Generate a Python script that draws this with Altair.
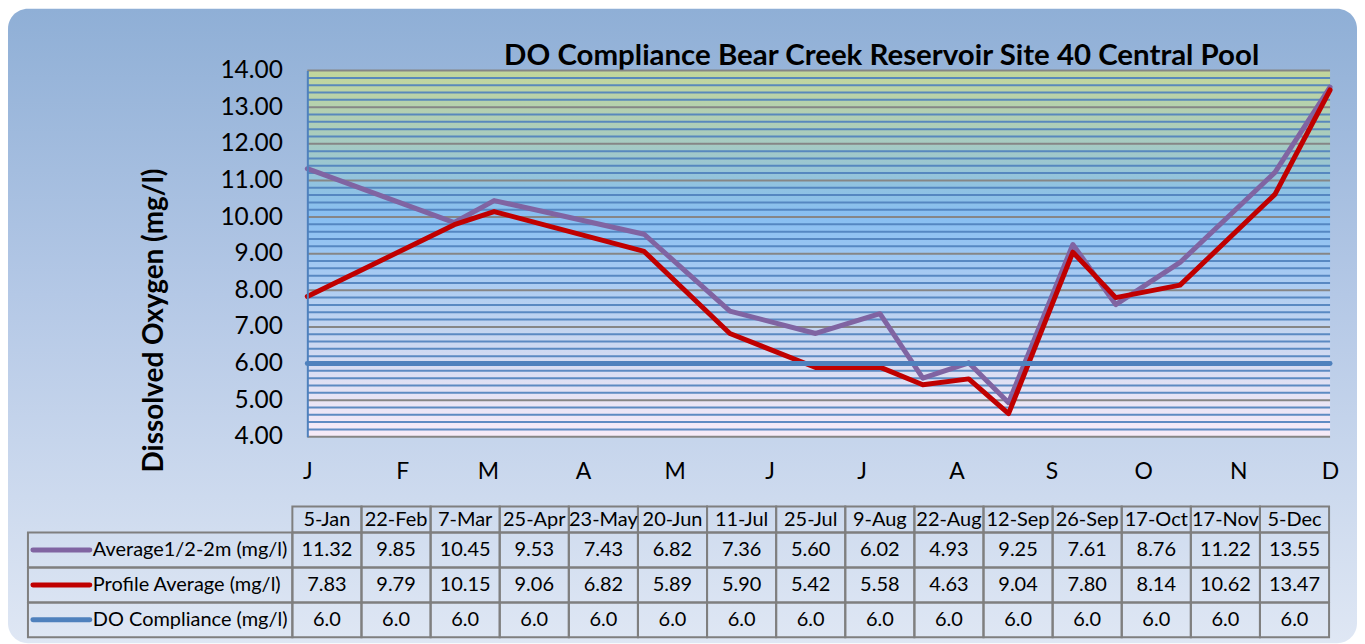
import altair as alt
import pandas as pd

YEAR = 2019
date_labels = ["5-Jan", "22-Feb", "7-Mar", "25-Apr", "23-May", "20-Jun", "11-Jul", "25-Jul",
               "9-Aug", "22-Aug", "12-Sep", "26-Sep", "17-Oct", "17-Nov", "5-Dec"]
avg_12m = [11.32, 9.85, 10.45, 9.53, 7.43, 6.82, 7.36, 5.60, 6.02, 4.93, 9.25, 7.61, 8.76, 11.22, 13.55]
profile_avg = [7.83, 9.79, 10.15, 9.06, 6.82, 5.89, 5.90, 5.42, 5.58, 4.63, 9.04, 7.80, 8.14, 10.62, 13.47]
do_compliance = [6.0, 6.0, 6.0, 6.0, 6.0, 6.0, 6.0, 6.0, 6.0, 6.0, 6.0, 6.0, 6.0, 6.0, 6.0]
series_names = ["Average1/2-2m (mg/l)", "Profile Average (mg/l)", "DO Compliance (mg/l)"]
series_colors = ["#8064a2", "#c00000", "#4f81bd"]
series_formats = ["{:.2f}", "{:.2f}", "{:.1f}"]
y_min, y_max = 4, 14
y_major = [4, 5, 6, 7, 8, 9, 10, 11, 12, 13, 14]
title_text = "DO Compliance Bear Creek Reservoir Site 40 Central Pool"
y_title = "Dissolved Oxygen (mg/l)"

FONT = "Lato"
W, H = 1025, 367

iso_dates = list(pd.to_datetime([f"{d}-{YEAR}" for d in date_labels], format="%d-%b-%Y").strftime("%Y-%m-%d"))
series_values = [avg_12m, profile_avg, do_compliance]

rows = []
for name, vals, fmt in zip(series_names, series_values, series_formats):
    for d, lab, v in zip(iso_dates, date_labels, vals):
        rows.append({"date": d, "label": lab, "value": v, "series": name, "text": fmt.format(v)})
long_df = pd.DataFrame(rows)

minor = []
for k in range(y_min * 5, y_max * 5 + 1):
    if k % 5:
        minor.append(k / 5)
grid_minor = pd.DataFrame({"value": minor})
grid_major = pd.DataFrame({"value": y_major})

def dt(iso):
    y, m, d = [int(p) for p in iso.split("-")]
    return alt.DateTime(year=y, month=m, date=d, utc=True)

x_axis = alt.Axis(values=[alt.DateTime(year=YEAR, month=m, date=5, utc=True) for m in range(1, 13)],
                  labelExpr="slice(utcFormat(datum.value, '%b'), 0, 1)", orient="bottom",
                  ticks=False, tickSize=0, domain=False, grid=False, labelPadding=24,
                  labelFontSize=23, labelFont=FONT, labelColor="#000000", title=None, zindex=1,
                  labelFlush=False, labelOverlap=False)
y_axis = alt.Axis(values=y_major, format=".2f", orient="left", ticks=False, tickSize=0, grid=False,
                  domain=True, domainColor="#4f81bd", domainWidth=2, labelPadding=25,
                  labelFontSize=24.5, labelFont=FONT, labelColor="#000000",
                  title=y_title, titleFont=FONT, titleFontSize=28, titleFontWeight="bold",
                  titleColor="#000000", titleX=-153, titleY=250, titleAngle=-90,
                  titleAlign="center", titleBaseline="middle", zindex=1)

X_ENC = alt.X("date:T", scale=alt.Scale(type="utc", domain=[dt(iso_dates[0]), dt(iso_dates[-1])]), axis=x_axis)
Y_ENC = alt.Y("value:Q", scale=alt.Scale(domain=[y_min, y_max], nice=False, zero=False), axis=y_axis)

# outer rounded frame
frame_grad = alt.LinearGradient(gradient="linear", x1=0, x2=0, y1=0, y2=1, stops=[
    alt.GradientStop(color="#8fafd6", offset=0),
    alt.GradientStop(color="#b4c8e6", offset=0.45),
    alt.GradientStop(color="#dfe7f4", offset=1)])
frame = alt.Chart(pd.DataFrame({"k": [0]})).mark_rect(fill=frame_grad, cornerRadius=20).encode(
    x=alt.value(-300), x2=alt.value(1052), y=alt.value(-62), y2=alt.value(574))

title = alt.Chart(pd.DataFrame({"t": [title_text]})).mark_text(
    font=FONT, fontSize=29.5, fontWeight="bold", align="right", baseline="alphabetic", color="#000000"
).encode(text="t:N", x=alt.value(954), y=alt.value(-6))

# plot area background
plot_grad = alt.LinearGradient(gradient="linear", x1=0, x2=0, y1=0, y2=1, stops=[
    alt.GradientStop(color="#c3d69b", offset=0),
    alt.GradientStop(color="#a6cbc2", offset=0.2),
    alt.GradientStop(color="#92c3de", offset=0.3),
    alt.GradientStop(color="#88bff2", offset=0.4),
    alt.GradientStop(color="#a6caf2", offset=0.55),
    alt.GradientStop(color="#c2d4f0", offset=0.7),
    alt.GradientStop(color="#d6dcf2", offset=0.8),
    alt.GradientStop(color="#e9e4f5", offset=0.9),
    alt.GradientStop(color="#f7ebf8", offset=1)])
bg_df = pd.DataFrame({"date": [iso_dates[0]], "date2": [iso_dates[-1]], "value": [y_min], "value2": [y_max]})
plot_bg = alt.Chart(bg_df).mark_rect(fill=plot_grad).encode(
    x=X_ENC, x2=alt.X2("date2:T"), y=Y_ENC, y2=alt.Y2("value2:Q"))

minor_rules = alt.Chart(grid_minor).mark_rule(color="#4f81bd", strokeWidth=2, opacity=0.9).encode(y=Y_ENC)
major_rules = alt.Chart(grid_major).mark_rule(color="#868686", strokeWidth=2).encode(y=Y_ENC)

line_layers = []
for name, col in zip(series_names, series_colors):
    line_layers.append(
        alt.Chart(long_df).transform_filter(alt.datum.series == name).mark_line(
            color=col, strokeWidth=5, strokeCap="round", strokeJoin="round"
        ).encode(x=X_ENC, y=Y_ENC)
    )

top_part = alt.layer(plot_bg, minor_rules, major_rules, *line_layers)

# data table
BORDER = "#7f7f7f"
TFS = 20
TX = alt.X("label:N", scale=alt.Scale(domain=date_labels, range=[-15, 1024], paddingInner=0, paddingOuter=0), axis=None)
hdr_df = pd.DataFrame({"label": date_labels, "row": ["hdr"] * len(date_labels)})
HY = alt.Y("row:N", scale=alt.Scale(domain=["hdr"], range=[437, 463], paddingInner=0, paddingOuter=0), axis=None)
hdr_cells = alt.Chart(hdr_df).mark_rect(fill=None, stroke=BORDER, strokeWidth=2).encode(x=TX, y=HY)
hdr_text = alt.Chart(hdr_df).mark_text(font=FONT, fontSize=TFS, color="#000000").encode(x=TX, y=HY, text="label:N")
header_part = alt.layer(hdr_cells, hdr_text)

RY = alt.Y("series:N", scale=alt.Scale(domain=series_names, range=[463, 568], paddingInner=0, paddingOuter=0), axis=None)
cells = alt.Chart(long_df).mark_rect(fill=None, stroke=BORDER, strokeWidth=2).encode(x=TX, y=RY)
cell_text = alt.Chart(long_df).mark_text(font=FONT, fontSize=TFS, color="#000000").encode(x=TX, y=RY, text="text:N")
rh_df = pd.DataFrame({"series": series_names})
rh_cells = alt.Chart(rh_df).mark_rect(fill=None, stroke=BORDER, strokeWidth=2).encode(
    x=alt.value(-280), x2=alt.value(-15), y=RY)
rh_text = alt.Chart(rh_df).mark_text(font=FONT, fontSize=TFS, align="left", color="#000000").encode(
    x=alt.value(-215), y=RY, text="series:N")
rh_keys = alt.Chart(rh_df).mark_rule(strokeWidth=5, strokeCap="round").encode(
    x=alt.value(-275), x2=alt.value(-218), y=RY,
    color=alt.Color("series:N", scale=alt.Scale(domain=series_names, range=series_colors), legend=None))
rows_part = alt.layer(cells, cell_text, rh_cells, rh_text, rh_keys)

chart = alt.layer(frame, title, top_part, header_part, rows_part).resolve_scale(
    x="independent", y="independent", color="independent"
).properties(
    width=W, height=H, autosize="none",
    padding={"left": 300, "top": 62, "right": 27, "bottom": 207}
).configure(font=FONT, background="#ffffff").configure_view(stroke=None)

chart.save("out.html", embed_options={"renderer": "svg", "actions": False})
